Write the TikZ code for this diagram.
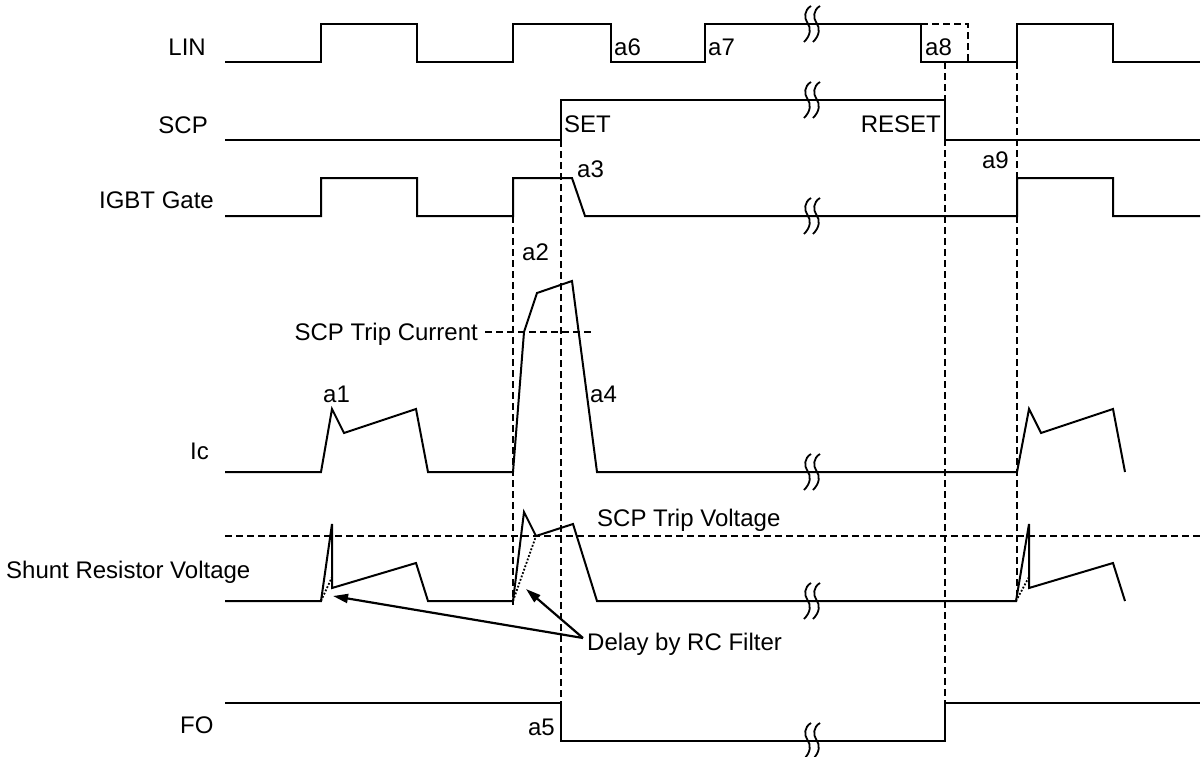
\documentclass[tikz,border=0pt]{standalone}
\usepackage{fontspec}
\setmainfont{Liberation Sans}
\usetikzlibrary{arrows.meta}
\begin{document}
\begin{tikzpicture}[x=1pt,y=-1pt,
  wave/.style={line width=2pt, line join=miter},
  guide/.style={line width=1.8pt, dash pattern=on 7pt off 4pt},
  rcdot/.style={line width=1.8pt, dash pattern=on 1.8pt off 1.8pt},
  lbl/.style={inner sep=0pt, font=\fontsize{24}{28}\selectfont},
  pointer/.style={line width=2.2pt, -{Triangle[length=15pt,width=9pt]}},
  brk/.pic={\foreach \d in {-4.5,4.5}
    \draw[line width=1.8pt] (\d+3.5,-18) .. controls (\d-3.5,-14) and (\d-3.5,-6) .. (\d,-1)
      .. controls (\d+3.5,4) and (\d+3.5,11) .. (\d-3.5,18);}]
\useasboundingbox (0,0) rectangle (1201,756);

% row labels
\node[lbl, anchor=base east] (lLIN) at (206,55) {LIN};
\node[lbl, anchor=base east] (lSCP) at (208,133) {SCP};
\node[lbl, anchor=base east] (lGate) at (214,208) {IGBT Gate};
\node[lbl, anchor=base west] (lIc) at (190,459) {Ic};
\node[lbl, anchor=base west] (lShunt) at (6,578) {Shunt Resistor Voltage};
\node[lbl, anchor=base west] (lFO) at (180,733) {FO};

% threshold lines
\draw[guide] (225,536) -- (1200,536);
\draw[guide] (485,332) -- (594,332);
\node[lbl, anchor=base east] (tripI) at (478,340) {SCP Trip Current};
\node[lbl, anchor=base west] (tripV) at (597,526) {SCP Trip Voltage};

% vertical guides
\draw[guide] (513,216) -- (513,605);
\draw[guide] (561,140) -- (561,703);
\draw[guide] (945,62) -- (945,703);
\draw[guide] (1017,62) -- (1017,601);
\draw[guide] (921,24) -- (968,24) -- (968,62);

% LIN
\draw[wave] (225,62) -- (321,62) -- (321,24) -- (417,24) -- (417,62) -- (513,62)
  -- (513,24) -- (611,24) -- (611,62) -- (705,62) -- (705,24) -- (921,24)
  -- (921,62) -- (1017,62) -- (1017,24) -- (1113,24) -- (1113,62) -- (1200,62);
% SCP
\draw[wave] (225,140) -- (561,140) -- (561,100) -- (945,100) -- (945,140) -- (1200,140);
% IGBT Gate
\draw[wave] (225,216) -- (321,216) -- (321,178) -- (417,178) -- (417,216) -- (513,216)
  -- (513,178) -- (572,178) -- (585,216) -- (1017,216) -- (1017,178) -- (1113,178)
  -- (1113,216) -- (1200,216);
% Ic
\draw[wave] (225,472) -- (321,472) -- (332,409) -- (344,433) -- (416,409) -- (428,472)
  -- (513,472) -- (524,332) -- (537,293) -- (572,281) -- (597,472) -- (1017,472)
  -- (1029,409) -- (1041,433) -- (1113,409) -- (1125,472);
% Shunt resistor voltage
\draw[wave] (225,601) -- (321,601) -- (332,524) -- (332,588) -- (416,563) -- (428,601)
  -- (513,601) -- (524,512) -- (536,536) -- (573,524) -- (597,601) -- (1016,601)
  -- (1029,524) -- (1029,588) -- (1113,563) -- (1125,601);
\draw[rcdot] (321,601) -- (332,577);
\draw[rcdot] (513,601) -- (536,536);
\draw[rcdot] (1016,601) -- (1029,577);
% FO
\draw[wave] (225,703) -- (561,703) -- (561,741) -- (945,741) -- (945,703) -- (1200,703);

% break marks
\foreach \yy in {24,100,216,472,601,741}
  \pic at (812,\yy) {brk};

% event labels
\node[lbl, anchor=base west] (a1) at (323,402) {a1};
\node[lbl, anchor=base west] (a2) at (522,260) {a2};
\node[lbl, anchor=base west] (a3) at (577,177) {a3};
\node[lbl, anchor=base west] (a4) at (590,402) {a4};
\node[lbl, anchor=base east] (a5) at (555,735) {a5};
\node[lbl, anchor=base west] (a6) at (614,55) {a6};
\node[lbl, anchor=base west] (a7) at (708,55) {a7};
\node[lbl, anchor=base west] (a8) at (925,55) {a8};
\node[lbl, anchor=base east] (a9) at (1009,168) {a9};
\node[lbl, anchor=base west] (set) at (564,132) {SET};
\node[lbl, anchor=base east] (reset) at (941,132) {RESET};

% RC filter annotation
\node[lbl, anchor=base west] (delay) at (587,650) {Delay by RC Filter};
\coordinate (apex) at (583,638);
\coordinate (tip1) at (333,596);
\coordinate (tip2) at (526,589);
\draw[pointer] (apex) -- (tip1);
\draw[pointer] (apex) -- (tip2);
\end{tikzpicture}
\end{document}
